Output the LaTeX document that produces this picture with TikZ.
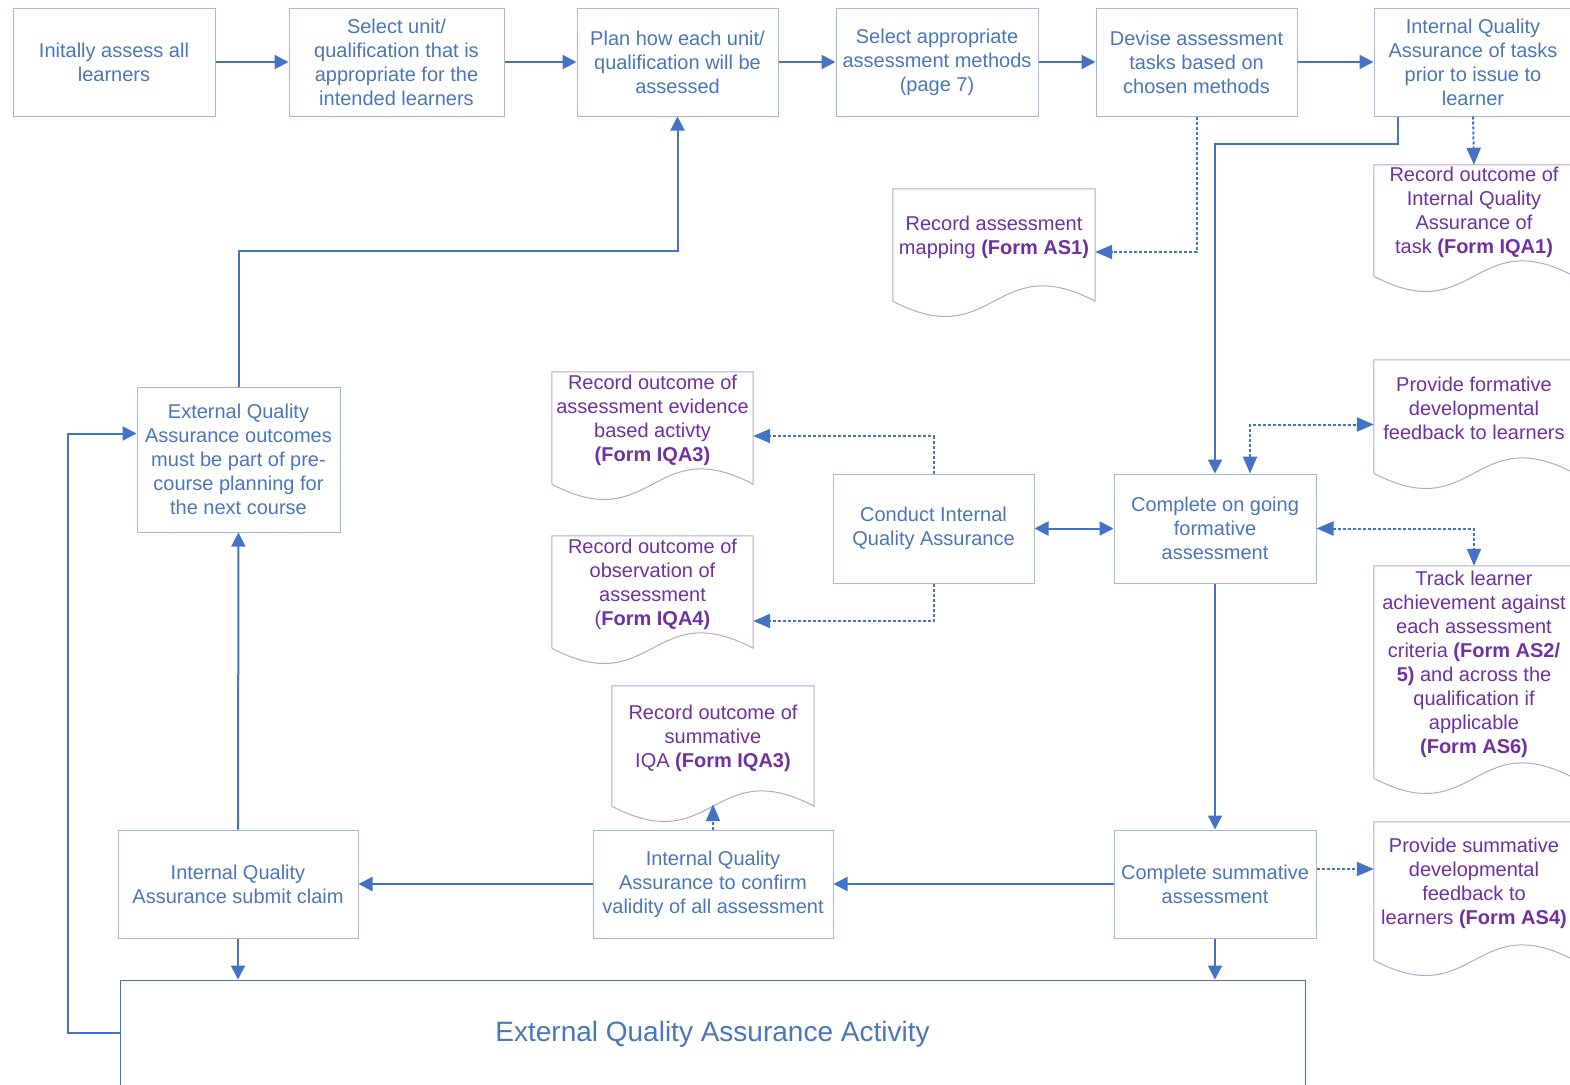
\documentclass[tikz,border=0pt]{standalone}
\usepackage{fontspec}
\setmainfont{Liberation Sans}
\usetikzlibrary{arrows.meta,calc}
\definecolor{boxline}{RGB}{160,186,218}
\definecolor{boxtext}{RGB}{74,118,186}
\definecolor{arrowblue}{RGB}{68,114,196}
\definecolor{doctext}{RGB}{112,48,160}
\definecolor{docline}{RGB}{185,165,205}
\newcommand\drawdoc[1]{%
  \draw[docedge] ($(#1.south west)+(0,16)$) -- (#1.north west) -- (#1.north east) -- ($(#1.south east)+(0,16)$)
    .. controls ($(#1.south)+(0,-37)$) and ($(#1.south)+(0,69)$) .. ($(#1.south west)+(0,16)$);}
\begin{document}
\begin{tikzpicture}[x=1pt,y=-1pt,
  procbox/.style={draw=boxline,line width=1pt,text=boxtext,align=center,inner sep=0pt,
    minimum height=108pt,font=\fontsize{20}{24}\selectfont},
  docnode/.style={draw=none,text=doctext,align=center,inner sep=0pt,minimum width=201pt,
    font=\fontsize{20}{24}\selectfont},
  docedge/.style={draw=docline,line width=1pt},
  arr/.style={>={Triangle[length=14pt,width=14pt]},->,draw=arrowblue,line width=2pt},
  dotarr/.style={>={Triangle[length=17pt,width=14pt]},->,draw=arrowblue,line width=2pt,dash pattern=on 3pt off 2pt},
]
\clip (0,0) rectangle (1570,1084);
\fill[white] (0,0) rectangle (1570,1084);

% top row
\node[procbox,minimum width=202pt] (B1) at (114,62) {Initally assess all\\learners};
\node[procbox,minimum width=215pt] (B2) at (396.5,62) {Select unit/\\qualification that is\\appropriate for the\\intended learners};
\node[procbox,minimum width=201pt] (B3) at (677.5,62) {Plan how each unit/\\qualification will be\\assessed};
\node[procbox,minimum width=202pt] (B4) at (937,62) {Select appropriate\\assessment methods\\(page 7)};
\node[procbox,minimum width=201pt] (B5) at (1196.5,62) {Devise assessment\\tasks based on\\chosen methods};
\node[procbox,minimum width=198pt] (B6) at (1473,62) {Internal Quality\\Assurance of tasks\\prior to issue to\\learner};

% middle boxes
\node[procbox,minimum width=201pt,minimum height=109pt] (CI) at (933.5,528.5) {Conduct Internal\\Quality Assurance};
\node[procbox,minimum width=202pt,minimum height=109pt] (CF) at (1215,528.5) {Complete on going\\formative\\assessment};
\node[procbox,minimum width=202pt] (CS) at (1215,884) {Complete summative\\assessment};
\node[procbox,minimum width=240pt] (CV) at (713,884) {Internal Quality\\Assurance to confirm\\validity of all assessment};
\node[procbox,minimum width=240pt] (CL) at (238,884) {Internal Quality\\Assurance submit claim};
\node[procbox,minimum width=203pt,minimum height=145pt] (EO) at (238.5,459.5) {External Quality\\Assurance outcomes\\must be part of pre-\\course planning for\\the next course};
\node[draw=arrowblue,line width=1pt,text=boxtext,inner sep=0pt,minimum width=1185pt,minimum height=108pt,
  font=\fontsize{28}{32}\selectfont] (EA) at (712.5,1034) {External Quality Assurance Activity};

% documents
\node[docnode,minimum width=202pt,minimum height=96pt] (AS1) at (994,237) {Record assessment\\mapping \textbf{(Form AS1)}};
\node[docnode,minimum width=200pt,minimum height=95pt] (IQA1) at (1474,212.5) {Record outcome of\\Internal Quality\\Assurance of\\task \textbf{(Form IQA1)}};
\node[docnode,minimum width=200pt,minimum height=97pt] (FF) at (1474,408.5) {Provide formative\\developmental\\feedback to learners};
\node[docnode,minimum width=200pt,minimum height=196pt] (TR) at (1474,664) {Track learner\\achievement against\\each assessment\\criteria \textbf{(Form AS2/}\\\textbf{5)} and across the\\qualification if\\applicable\\\textbf{(Form AS6)}};
\node[docnode,minimum height=96pt] (E3) at (652.5,420) {Record outcome of\\assessment evidence\\based activty\\\textbf{(Form IQA3)}};
\node[docnode,minimum height=96pt] (E4) at (652.5,584) {Record outcome of\\observation of\\assessment\\(\textbf{Form IQA4)}};
\node[docnode,minimum width=202pt,minimum height=104pt] (SI) at (713,738) {Record outcome of\\summative\\IQA \textbf{(Form IQA3)}};
\node[docnode,minimum width=200pt,minimum height=122pt] (SF) at (1474,883) {Provide summative\\developmental\\feedback to\\learners \textbf{(Form AS4)}};

\drawdoc{AS1}\drawdoc{IQA1}\drawdoc{FF}\drawdoc{TR}\drawdoc{E3}\drawdoc{E4}\drawdoc{SI}\drawdoc{SF}

% top row connectors
\draw[arr] (B1) -- (B2);
\draw[arr] (B2) -- (B3);
\draw[arr] (B3) -- (B4);
\draw[arr] (B4) -- (B5);
\draw[arr] (B5) -- (B6);

\draw[dotarr] (B5.south) |- ($(AS1.east)+(0,15)$);
\draw[dotarr] (B6.south) -- (IQA1.north);
\draw[arr] ($(B6.south west)+(24,0)$) -- ++(0,27) -| (CF.north);

\draw[dotarr,<->] ($(CF.north)+(35,0)$) |- ($(FF.west)+(0,16)$);
\draw[dotarr,<->] (CF.east) -| (TR.north);
\draw[arr,<->] (CI) -- (CF);
\draw[dotarr] (CI.north) |- ($(E3.east)+(0,16)$);
\draw[dotarr] (CI.south) |- ($(E4.east)+(0,37)$);

\draw[arr] (CF) -- (CS);
\coordinate (sfin) at ($(CS.east)+(0,-15)$);
\draw[dotarr] (sfin) -- (sfin -| SF.west);
\draw[arr] (CS) -- (CV);
\draw[dotarr] (CV.north) -- ($(SI.south)+(0,14)$);
\draw[arr] (CV) -- (CL);
\draw[arr] (CL) -- (EO);
\draw[arr] (EO.north) |- ($(B3.south)+(0,134)$) -- (B3.south);
\draw[arr] (CL.south) -- (CL.south |- EA.north);
\draw[arr] (CS.south) -- (CS.south |- EA.north);
\coordinate (eoin) at ($(EO.west)+(0,-26)$);
\draw[arr] ($(EA.north west)+(0,53)$) -- ++(-52,0) |- (eoin);
\end{tikzpicture}
\end{document}
